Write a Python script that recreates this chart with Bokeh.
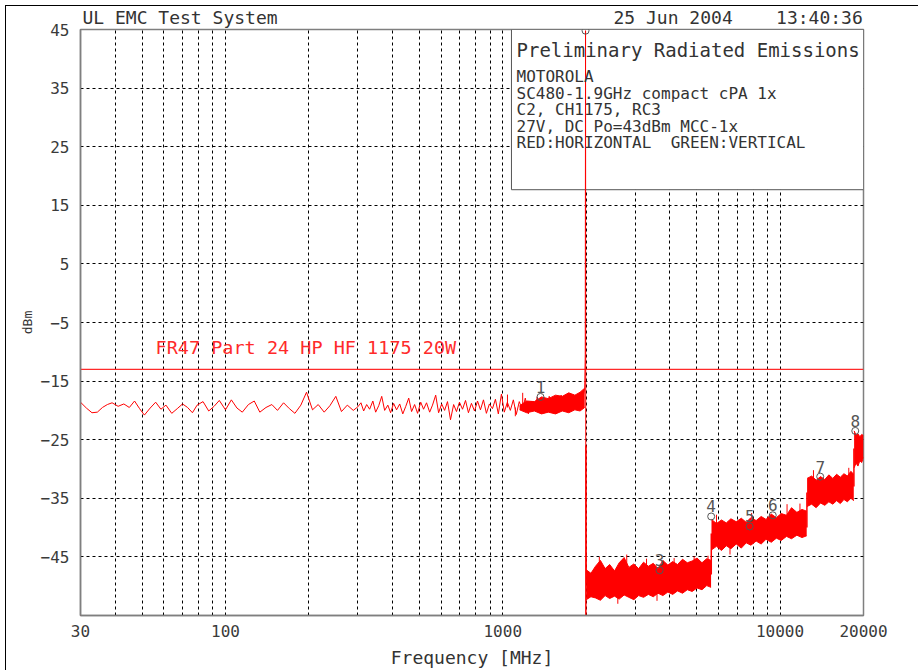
from bokeh.plotting import figure
from bokeh.models import Range1d, FixedTicker, NumeralTickFormatter, Label, Title
from bokeh.core.properties import value
from bokeh.embed import file_html
from bokeh.resources import INLINE

MONO = "DejaVu Sans Mono"
RED = "#ff0000"
NB = "\u00a0"

# ---------------- axis ticks ----------------
x_tick_values = [30, 100, 1000, 10000, 20000]
x_grid_values = [40, 50, 60, 70, 80, 90, 100, 200, 300, 400, 500, 600, 700, 800, 900,
                 1000, 2000, 3000, 4000, 5000, 6000, 7000, 8000, 9000, 10000]
y_tick_values = [-45, -35, -25, -15, -5, 5, 15, 25, 35, 45]
y_grid_values = [-45, -35, -25, -15, -5, 5, 15, 25, 35]

# ---------------- limit line ----------------
limit_freq = [30, 20000]
limit_dbm = [-13, -13]

# ---------------- trace, 30 - 300 MHz (sparse sweep) ----------------
seg1a_freq = [30, 30, 31.5, 33, 34.5, 36, 37.5, 39, 41, 43, 45, 47, 49, 51, 53.5, 56, 58.5, 61, 64,
              67, 70, 73, 76, 79, 83, 87, 91, 95, 100, 105, 110, 115, 121, 127, 133, 140,
              147, 154, 162, 170, 178, 187, 196, 206, 216, 227, 238, 250, 262, 275, 289]
seg1a_dbm = [-60, -18.6, -19.6, -20.4, -20.3, -19.5, -19.0, -18.7, -19.3, -18.9, -19.5, -18.4,
             -19.7, -20.8, -19.6, -18.6, -19.8, -19.1, -20.5, -19.7, -18.9, -19.5, -20.4,
             -19.1, -18.5, -20.1, -19.3, -18.3, -19.9, -18.2, -19.6, -20.3, -19.0, -18.4,
             -20.3, -19.5, -19.0, -20.0, -18.7, -19.7, -20.5, -19.1, -16.9, -19.9, -19.0,
             -20.3, -19.2, -17.6, -20.2, -19.1, -20.0]

# ---------------- trace, 300 - 2002 MHz (dense sweep + carrier) ----------------
seg1b_freq = [300, 308, 315, 323, 331, 340, 348, 357, 366, 375, 385, 394, 404, 414, 425, 436,
              447, 458, 469, 481, 493, 506, 518, 531, 545, 558, 573, 587, 602, 617, 632, 648,
              665, 681, 698, 716, 734, 752, 771, 791, 811, 831, 852, 873, 895, 918, 941, 964,
              989, 1013, 1039, 1065, 1092, 1119, 1147, 1176, 1206, 1236, 1267, 1299, 1332,
              1365, 1399, 1435, 1471, 1508, 1545, 1584, 1624, 1665, 1707, 1750, 1794, 1839,
              1885, 1932, 1975, 1984, 1988.75, 1994, 1996, 1998, 2002]
seg1b_dbm = [-19.4, -18.7, -20.1, -19.0, -19.8, -18.4, -20.3, -19.2, -17.6, -20.0, -19.1, -20.4,
             -18.8, -19.9, -18.9, -20.6, -19.3, -17.9, -20.2, -19.0, -20.5, -18.6, -19.8,
             -18.7, -20.3, -19.1, -17.4, -20.4, -18.9, -20.0, -18.5, -21.6, -19.0, -20.2,
             -18.6, -19.8, -18.3, -20.4, -18.8, -20.1, -18.4, -19.9, -18.2, -20.5, -18.9,
             -19.7, -18.1, -20.6, -17.2, -20.3, -18.6, -20.0, -18.2, -20.7, -18.5, -19.9,
             -17.9, -20.6, -18.4, -20.1, -17.7, -20.4, -18.3, -19.8, -17.6, -20.3, -18.0,
             -19.7, -17.4, -20.0, -17.8, -19.6, -17.3, -19.4, -17.2, -18.6, -16.2, -10.5,
             44.8, -60, -26, -39, -49.5]

# ---------------- noise bands (upper / lower envelope) ----------------
band1_freq = [1150, 1220, 1300, 1380, 1460, 1550, 1640, 1730, 1820, 1900, 1975]
band1_hi = [-19.2, -18.4, -18.5, -17.7, -18.0, -17.4, -17.6, -17.0, -17.4, -16.9, -16.2]
band1_lo = [-19.9, -20.4, -20.1, -20.6, -20.3, -20.6, -20.1, -20.4, -19.9, -20.1, -19.5]

band2_freq = [2000, 2080, 2160, 2250, 2340, 2430, 2530, 2630, 2740, 2850, 2970, 3090, 3220,
              3350, 3490, 3630, 3780, 3940, 4100, 4270, 4450, 4630, 4820, 5020, 5230, 5440, 5640]
band2_hi = [-47.2, -47.8, -46.6, -45.6, -47.0, -46.3, -47.4, -46.0, -45.1, -46.8, -46.2, -47.0,
            -45.9, -46.6, -46.1, -47.0, -45.6, -46.4, -45.8, -46.3, -45.4, -46.0, -45.7,
            -45.2, -46.0, -45.3, -45.6]
band2_lo = [-52.3, -51.8, -52.0, -52.4, -51.6, -52.1, -51.7, -52.2, -51.5, -51.9, -52.3, -51.6,
            -51.9, -51.4, -51.8, -51.2, -51.6, -51.0, -51.4, -50.8, -51.2, -50.6, -50.9,
            -50.3, -50.6, -49.9, -50.2]

band3_freq = [5660, 5900, 6150, 6400, 6650, 6950, 7250, 7550, 7850, 8200, 8550, 8900, 9300,
              9700, 10100, 10550, 11000, 11500, 12000, 12480]
band3_hi = [-38.6, -39.3, -38.7, -39.2, -38.5, -39.0, -38.4, -39.1, -38.3, -38.8, -38.1, -38.6,
            -37.7, -38.3, -37.6, -37.9, -36.6, -37.4, -36.9, -37.2]
band3_lo = [-43.8, -43.2, -43.9, -43.1, -43.6, -42.8, -43.5, -42.6, -43.0, -42.3, -42.8, -42.0,
            -42.5, -41.8, -42.2, -41.5, -41.9, -41.3, -41.7, -41.4]

band4_freq = [12520, 13000, 13500, 14000, 14500, 15000, 15500, 16000, 16500, 17000, 17500,
              18000, 18450]
band4_hi = [-31.6, -31.2, -31.9, -31.3, -31.8, -31.0, -31.6, -30.9, -31.4, -30.8, -31.2,
            -30.4, -30.9]
band4_lo = [-36.4, -36.0, -36.6, -35.8, -36.2, -35.6, -36.0, -35.4, -35.9, -35.2, -35.6,
            -35.0, -35.4]

band5_freq = [18500, 18800, 19100, 19400, 19700, 20000]
band5_hi = [-23.5, -24.2, -24.0, -24.5, -24.1, -24.3]
band5_lo = [-29.8, -29.0, -29.5, -28.6, -28.9, -28.0]

# isolated noise spikes (frequency, band level, spike tip)
spike_freq = [1040, 1110, 1180, 2230, 2600, 2800, 3300, 3600, 4150, 4900, 5500, 5900, 6600,
              7900, 10600, 11800, 13200, 17700]
spike_base = [-19.5, -19.5, -19.5, -48.0, -51.0, -48.0, -48.5, -51.0, -48.0, -47.5, -47.0,
              -40.0, -42.5, -40.0, -39.0, -38.5, -33.0, -32.5]
spike_tip = [-17.3, -21.0, -17.0, -45.0, -53.0, -44.6, -45.3, -52.5, -45.2, -44.9, -44.8,
             -37.8, -44.6, -37.5, -36.0, -35.9, -30.2, -29.8]

# band-to-band transitions
step_freq = [5650, 12500, 18470]
step_from = [-48.0, -40.0, -33.0]
step_to = [-41.0, -34.0, -26.5]

# markers
marker_freq = [1368, 1988.75, 3678, 5645, 7773, 9414, 13959, 18680]
marker_dbm = [-17.7, 44.8, -47.3, -38.1, -39.8, -37.9, -31.3, -23.5]
marker_text = ["1", "2", "3", "4", "5", "6", "7", "8"]

# info box
box_left_freq = 1075
box_bottom_dbm = 17.66
info_title = "Preliminary Radiated Emissions"
info_lines = ["MOTOROLA", "SC480-1.9GHz compact cPA 1x", "C2, CH1175, RC3",
              "27V, DC Po=43dBm MCC-1x", "RED:HORIZONTAL" + NB + NB + "GREEN:VERTICAL"]
header_text = "UL EMC Test System" + NB * 31 + "25 Jun 2004" + NB * 4 + "13:40:36"
limit_text = "FR47 Part 24 HP HF 1175 20W"

p = figure(width=918, height=670, x_axis_type="log",
           x_range=Range1d(30, 20000), y_range=Range1d(-55, 45),
           output_backend="svg", toolbar_location=None,
           min_border_left=80, min_border_right=55, min_border_top=29, min_border_bottom=51,
           background_fill_color="white", border_fill_color="white", border_fill_alpha=0.0,
           outline_line_color="#7f7f7f", outline_line_width=1.5,
           styles={"box-shadow": "inset 5px 5px 0 0 #ffffff, inset 6px 6px 0 0 #000000"})

# header as title
p.add_layout(Title(text=header_text, align="left", offset=2, standoff=3,
                   text_font=MONO, text_font_size="18px", text_font_style="normal",
                   text_color="#333333"), "above")

# axes
for ax in (p.xaxis[0], p.yaxis[0]):
    ax.axis_line_color = "#7f7f7f"
    ax.axis_line_width = 1.5
    ax.major_tick_line_color = None
    ax.minor_tick_line_color = None
    ax.major_label_text_font = MONO
    ax.major_label_text_font_size = "16px"
    ax.major_label_text_color = "#3a3a3a"
    ax.axis_label_text_font = MONO
    ax.axis_label_text_font_style = "normal"
    ax.axis_label_text_color = "#333333"
p.xaxis.ticker = FixedTicker(ticks=x_tick_values)
p.xaxis.formatter = NumeralTickFormatter(format="0")
p.xaxis.major_label_standoff = 3
p.xaxis.axis_label = "Frequency [MHz]"
p.xaxis.axis_label_text_font_size = "18px"
p.xaxis.axis_label_standoff = 7
p.yaxis.ticker = FixedTicker(ticks=y_tick_values)
p.yaxis.major_label_standoff = 5
p.yaxis.axis_label = "dBm"
p.yaxis.axis_label_text_font_size = "13px"
p.yaxis.axis_label_standoff = 3

p.xgrid.ticker = FixedTicker(ticks=x_grid_values)
p.ygrid.ticker = FixedTicker(ticks=y_grid_values)
for g in (p.xgrid[0], p.ygrid[0]):
    g.grid_line_color = "#000000"
    g.grid_line_dash = "3 3"
    g.grid_line_width = 1

# info box (white, covers grid)
p.quad(left=[box_left_freq], right=[x_tick_values[-1]], top=[45], bottom=[box_bottom_dbm],
       fill_color="white", line_color="#555555", line_width=1)

# limit line
p.line(limit_freq, limit_dbm, line_color="#ff2a2a", line_width=1.3)

# noise bands
for bf, bh, bl in ((band1_freq, band1_hi, band1_lo), (band2_freq, band2_hi, band2_lo),
                   (band3_freq, band3_hi, band3_lo), (band4_freq, band4_hi, band4_lo),
                   (band5_freq, band5_hi, band5_lo)):
    p.varea(x=bf, y1=bl, y2=bh, fill_color=RED)
    p.line(bf, bh, line_color=RED, line_width=1)
    p.line(bf, bl, line_color=RED, line_width=1)

# trace
p.line(seg1a_freq + seg1b_freq, seg1a_dbm + seg1b_dbm, line_color=RED, line_width=1)
p.segment(x0=spike_freq, x1=spike_freq, y0=spike_base, y1=spike_tip, line_color=RED, line_width=1)
p.segment(x0=step_freq, x1=step_freq, y0=step_from, y1=step_to, line_color=RED, line_width=1.5)

# markers
p.scatter(marker_freq, marker_dbm, marker="circle", size=7, fill_color=None,
          line_color="#555555", line_width=1)
p.text(marker_freq, marker_dbm, text=marker_text, text_font=value(MONO),
       text_font_size="16px", text_color="#555555", text_align="center",
       text_baseline="bottom", y_offset=-4)

def lab(text, x, y, size, color="#333333"):
    p.add_layout(Label(x=x, y=y, x_units="screen", y_units="screen", text=text,
                       text_font=MONO, text_font_size=size, text_color=color,
                       text_align="left", text_baseline="alphabetic"))

# box text
lab(info_title, 436, 565.5, "19px")
for i, t in enumerate(info_lines):
    lab(t, 436, 539 - 16.5 * i, "16px")
# limit label
lab(limit_text, 75, 268, "18.5px", color="#ff2a2a")

open("out.html", "w").write(file_html(p, INLINE))
